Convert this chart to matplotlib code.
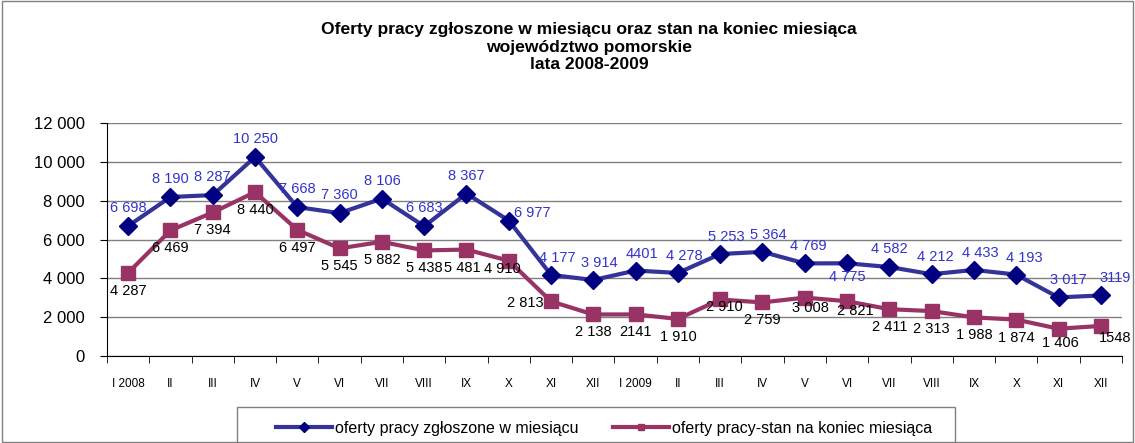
import matplotlib.pyplot as plt
from matplotlib.patches import Rectangle

plt.rcParams['font.family'] = ['Liberation Sans', 'DejaVu Sans']

# Months (Roman numerals), two years
months = ['I 2008', 'II', 'III', 'IV', 'V', 'VI', 'VII', 'VIII', 'IX', 'X', 'XI', 'XII',
          'I 2009', 'II', 'III', 'IV', 'V', 'VI', 'VII', 'VIII', 'IX', 'X', 'XI', 'XII']

# Job offers reported in the month
zgloszone = [6698, 8190, 8287, 10250, 7668, 7360, 8106, 6683, 8367, 6977, 4177, 3914,
             4401, 4278, 5253, 5364, 4769, 4775, 4582, 4212, 4433, 4193, 3017, 3119]
zgloszone_lbl = ['6 698', '8 190', '8 287', '10 250', '7 668', '7 360', '8 106', '6 683', '8 367',
                 '6 977', '4 177', '3 914', '4401', '4 278', '5 253', '5 364', '4 769', '4 775',
                 '4 582', '4 212', '4 433', '4 193', '3 017', '3119']

# Job offers at the end of the month
stan = [4287, 6469, 7394, 8440, 6497, 5545, 5882, 5438, 5481, 4910, 2813, 2138,
        2141, 1910, 2910, 2759, 3008, 2821, 2411, 2313, 1988, 1874, 1406, 1548]
stan_lbl = ['4 287', '6 469', '7 394', '8 440', '6 497', '5 545', '5 882', '5 438', '5 481',
            '4 910', '2 813', '2 138', '2141', '1 910', '2 910', '2 759', '3 008', '2 821',
            '2 411', '2 313', '1 988', '1 874', '1 406', '1548']

yticks = [0, 2000, 4000, 6000, 8000, 10000, 12000]
ytick_lbl = ['0', '2 000', '4 000', '6 000', '8 000', '10 000', '12 000']

fig = plt.figure(figsize=(11.35, 4.43), dpi=100)
ax = fig.add_axes([0.0943, 0.1964, 0.8942, 0.5259])

x = list(range(len(months)))
ax.plot(x, zgloszone, color='#333399', lw=3, marker='D', markersize=9,
        markerfacecolor='#000080', markeredgecolor='#000080', zorder=4,
        label='oferty pracy zgłoszone w miesiącu')
ax.plot(x, stan, color='#993366', lw=3, marker='s', markersize=10,
        markerfacecolor='#993366', markeredgecolor='#993366', zorder=3,
        label='oferty pracy-stan na koniec miesiąca')

# label offsets in pixels (default: blue above, pink below)
blue_off = {9: (24, 8), 17: (0, -14), 10: (6, 17), 11: (6, 17), 12: (6, 17), 13: (6, 17),
            14: (6, 17), 15: (6, 17), 16: (4, 17), 19: (4, 17), 20: (6, 17), 21: (8, 17),
            22: (10, 17), 23: (14, 17)}
pink_off = {10: (-26, -2), 9: (-6, -8), 8: (-4, -18), 14: (4, -8), 16: (6, -10), 17: (8, -10),
            23: (14, -12), 22: (2, -14)}
for i in x:
    dx, dy = blue_off.get(i, (0, 18))
    ax.annotate(zgloszone_lbl[i], (i, zgloszone[i]), xytext=(dx * 0.72, dy * 0.72),
                textcoords='offset points', ha='center', va='center',
                fontsize=10.5, color='#3333CC', zorder=5)
    dx, dy = pink_off.get(i, (0, -18))
    ax.annotate(stan_lbl[i], (i, stan[i]), xytext=(dx * 0.72, dy * 0.72),
                textcoords='offset points', ha='center', va='center',
                fontsize=10.5, color='black', zorder=5)

ax.set_xlim(-0.5, len(months) - 0.5)
ax.set_ylim(0, 12000)
ax.set_yticks(yticks)
ax.set_yticklabels(ytick_lbl, fontsize=12)
ax.set_xticks(x)
ax.set_xticklabels(months, fontsize=8.5)
ax.set_xticks([i - 0.5 for i in range(len(months) + 1)], minor=True)
ax.tick_params(axis='x', which='major', length=0, pad=16)
ax.tick_params(axis='x', which='minor', length=5, color='black', direction='out')
ax.tick_params(axis='y', length=5, direction='out', pad=11)
ax.grid(axis='y', color='#808080', lw=1)
ax.set_axisbelow(True)
for s in ['top', 'right']:
    ax.spines[s].set_visible(False)
ax.spines['left'].set_color('black')
ax.spines['bottom'].set_color('black')

fig.text(0.519, 0.950, 'Oferty pracy zgłoszone w miesiącu oraz stan na koniec miesiąca\n'
         'województwo pomorskie\nlata 2008-2009', ha='center', va='top',
         fontsize=12.6, fontweight='bold', linespacing=1.2)

# legend box (runs off the bottom edge)
fig.patches.append(Rectangle((237 / 1135, -0.05), (955 - 237) / 1135, 0.05 + (443 - 407) / 443,
                             transform=fig.transFigure, fill=False, edgecolor='#808080', lw=1))
leg = fig.legend(loc='center', bbox_to_anchor=(604 / 1135, 1 - 428 / 443), ncol=2, frameon=False,
                 fontsize=11.5, handlelength=3.5, columnspacing=2.2, handletextpad=0.15)
for h in leg.legend_handles:
    h.set_markersize(5)

# outer chart border
fig.patches.append(Rectangle((0.002, 0.002), 0.996, 0.996, transform=fig.transFigure,
                             fill=False, edgecolor='#808080', lw=1))

fig.savefig('out.png', dpi=100)
